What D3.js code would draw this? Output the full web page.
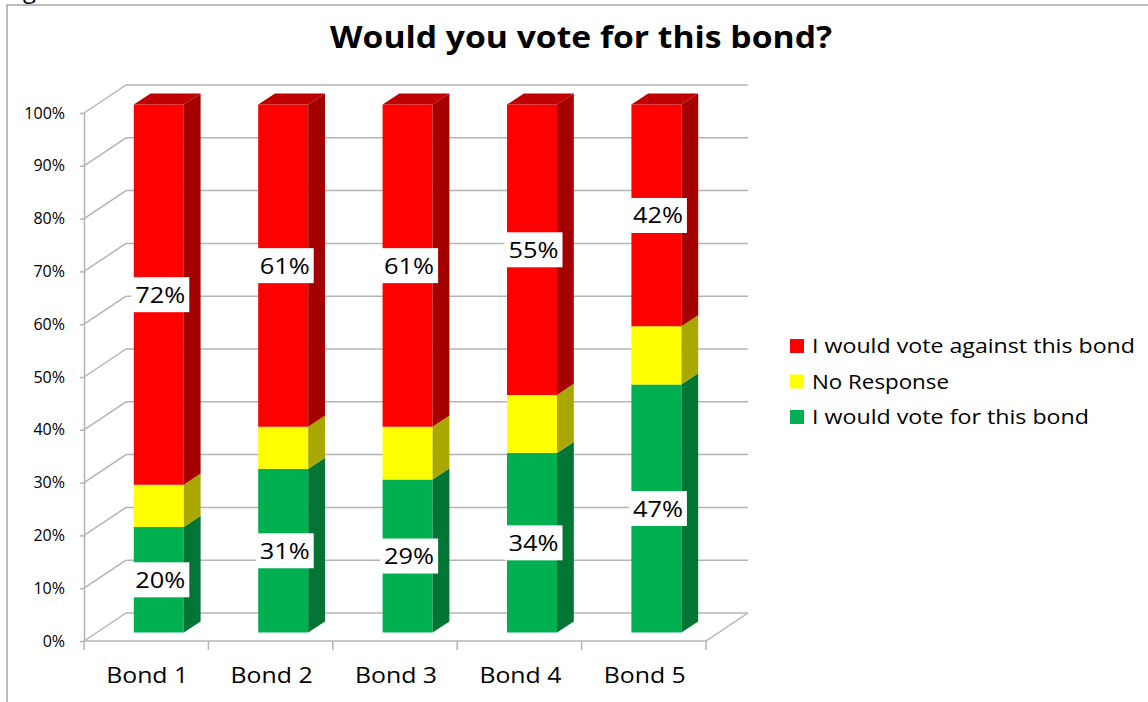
<!DOCTYPE html>
<html>
<head>
<meta charset="utf-8">
<script src="https://cdn.jsdelivr.net/npm/d3@7"></script>
<style>
  html, body { margin: 0; padding: 0; background: #fff; }
  svg { display: block; }
  text { font-family: "Open Sans", "Noto Sans", sans-serif; fill: #000; }
</style>
</head>
<body>
<svg id="chart" width="1148" height="702"></svg>
<script>
// Survey results: share of answers per bond (percent)
const categories = ["Bond 1", "Bond 2", "Bond 3", "Bond 4", "Bond 5"];
const voteFor = [20, 31, 29, 34, 47];
const noResponse = [8, 8, 10, 11, 11];
const voteAgainst = [72, 61, 61, 55, 42];
const seriesNames = ["I would vote for this bond", "No Response", "I would vote against this bond"];
const yTickValues = [0, 10, 20, 30, 40, 50, 60, 70, 80, 90, 100];
const title = "Would you vote for this bond?";

// face colours: front, side, top
const palette = {
  "I would vote for this bond": { front: "#00b050", side: "#007534", top: "#008a3e" },
  "No Response": { front: "#ffff00", side: "#a8a800", top: "#c4c400" },
  "I would vote against this bond": { front: "#ff0000", side: "#a50000", top: "#c00000" }
};

const svg = d3.select("#chart");
const W = 1148, H = 702;

// stacked table built from the series arrays
const table = categories.map((c, i) => ({
  category: c,
  "I would vote for this bond": voteFor[i],
  "No Response": noResponse[i],
  "I would vote against this bond": voteAgainst[i]
}));
const stacked = d3.stack().keys(seriesNames)(table);

// front plane of the 3-D box
const plotLeft = 84, plotRight = 706;
const x = d3.scaleBand().domain(categories).range([plotLeft, plotRight])
  .paddingInner(0.598).paddingOuter(0.299);
const y = d3.scaleLinear().domain([0, 100]).range([641, 113]);
// depth vector from the front plane to the back wall
const DX = 42, DY = -28;
const barD0 = 0.3, barD1 = 0.7;

const gridColor = "#b4b4b4";

// frame around the chart area
svg.append("path")
  .attr("d", `M7,${H} V5 H${W}`)
  .attr("fill", "none").attr("stroke", "#a6a6a6").attr("stroke-width", 1.5);
svg.append("text").attr("x", 23).attr("y", -2).attr("font-size", 24).text("g");

// title
svg.append("text")
  .attr("x", 581).attr("y", 48)
  .attr("text-anchor", "middle")
  .attr("font-size", 30).attr("font-weight", 700)
  .attr("textLength", 502).attr("lengthAdjust", "spacingAndGlyphs")
  .text(title);

const grid = svg.append("g").attr("fill", "none").attr("stroke", gridColor).attr("stroke-width", 1.5);

// back wall gridlines and left wall diagonals
yTickValues.forEach(v => {
  grid.append("line")
    .attr("x1", plotLeft + DX).attr("y1", y(v) + DY)
    .attr("x2", plotRight + DX).attr("y2", y(v) + DY);
  grid.append("line")
    .attr("x1", plotLeft).attr("y1", y(v))
    .attr("x2", plotLeft + DX).attr("y2", y(v) + DY);
});
// floor edges
grid.append("line").attr("x1", plotLeft).attr("y1", y(0)).attr("x2", plotRight).attr("y2", y(0));
grid.append("line").attr("x1", plotRight).attr("y1", y(0)).attr("x2", plotRight + DX).attr("y2", y(0) + DY);

// value axis
const yAxis = d3.axisLeft(y)
  .tickValues(yTickValues)
  .tickFormat(d => d + "%")
  .tickSize(4).tickSizeOuter(0).tickPadding(15);
const yAxisG = svg.append("g").attr("transform", `translate(${plotLeft},0)`).call(yAxis);
yAxisG.select(".domain").attr("stroke", gridColor).attr("stroke-width", 1.5);
yAxisG.selectAll(".tick line").attr("stroke", gridColor).attr("stroke-width", 1.5);
yAxisG.selectAll(".tick text")
  .attr("font-family", "'Open Sans', sans-serif")
  .attr("font-size", 16).attr("fill", "#000");

// category axis: ticks between categories, labels centred in each band
const xAxisG = svg.append("g");
d3.range(categories.length + 1).forEach(i => {
  const bx = plotLeft + i * x.step();
  xAxisG.append("line")
    .attr("x1", bx).attr("x2", bx).attr("y1", y(0)).attr("y2", y(0) + 9)
    .attr("stroke", gridColor).attr("stroke-width", 1.5);
});
xAxisG.selectAll("text.cat").data(categories).join("text")
  .attr("class", "cat")
  .attr("x", d => x(d) + x.bandwidth() / 2 + 1)
  .attr("y", 683)
  .attr("text-anchor", "middle")
  .attr("font-size", 22)
  .attr("textLength", 82).attr("lengthAdjust", "spacingAndGlyphs")
  .text(d => d);

// 3-D stacked columns
const bars = svg.append("g");
const pt = (px, v, d) => [px + DX * d, y(v) + DY * d];
const poly = pts => "M" + pts.map(p => p.join(",")).join("L") + "Z";

categories.forEach((cat, i) => {
  const x0 = x(cat), x1 = x(cat) + x.bandwidth();
  const g = bars.append("g");
  stacked.forEach((layer, li) => {
    const [v0, v1] = layer[i];
    const col = palette[layer.key];
    // front face
    g.append("path").attr("fill", col.front)
      .attr("d", poly([pt(x0, v0, barD0), pt(x1, v0, barD0), pt(x1, v1, barD0), pt(x0, v1, barD0)]));
    // right side face
    g.append("path").attr("fill", col.side)
      .attr("d", poly([pt(x1, v0, barD0), pt(x1, v0, barD1), pt(x1, v1, barD1), pt(x1, v1, barD0)]));
    // top face of the uppermost segment
    if (li === stacked.length - 1) {
      g.append("path").attr("fill", col.top)
        .attr("d", poly([pt(x0, v1, barD0), pt(x1, v1, barD0), pt(x1, v1, barD1), pt(x0, v1, barD1)]));
    }
  });
});

// value labels for the "for" and "against" segments
const labelled = ["I would vote for this bond", "I would vote against this bond"];
const labels = svg.append("g");
stacked.filter(l => labelled.includes(l.key)).forEach(layer => {
  layer.forEach((seg, i) => {
    const cat = categories[i];
    const value = seg.data[layer.key];
    const [cx, cy] = pt(x(cat) + x.bandwidth() / 2 + 1.5, (seg[0] + seg[1]) / 2, barD0);
    const lg = labels.append("g").attr("transform", `translate(${cx},${cy})`);
    lg.append("rect").attr("x", -29).attr("y", -17.5).attr("width", 58).attr("height", 35).attr("fill", "#fff");
    lg.append("text")
      .attr("text-anchor", "middle").attr("y", 8)
      .attr("font-size", 22)
      .attr("textLength", 50).attr("lengthAdjust", "spacingAndGlyphs")
      .text(value + "%");
  });
});

// legend, top entry is the top of the stack
const legendItems = seriesNames.slice().reverse();
const legendWidths = { "I would vote against this bond": 323, "No Response": 137, "I would vote for this bond": 277 };
const legend = svg.append("g").attr("transform", "translate(790,346)");
legendItems.forEach((name, k) => {
  const row = legend.append("g").attr("transform", `translate(0,${k * 35.5})`);
  row.append("rect").attr("x", 0).attr("y", -7).attr("width", 14).attr("height", 14).attr("fill", palette[name].front);
  row.append("text").attr("x", 22).attr("y", 7)
    .attr("font-size", 20)
    .attr("textLength", legendWidths[name]).attr("lengthAdjust", "spacingAndGlyphs")
    .text(name);
});
</script>
</body>
</html>
